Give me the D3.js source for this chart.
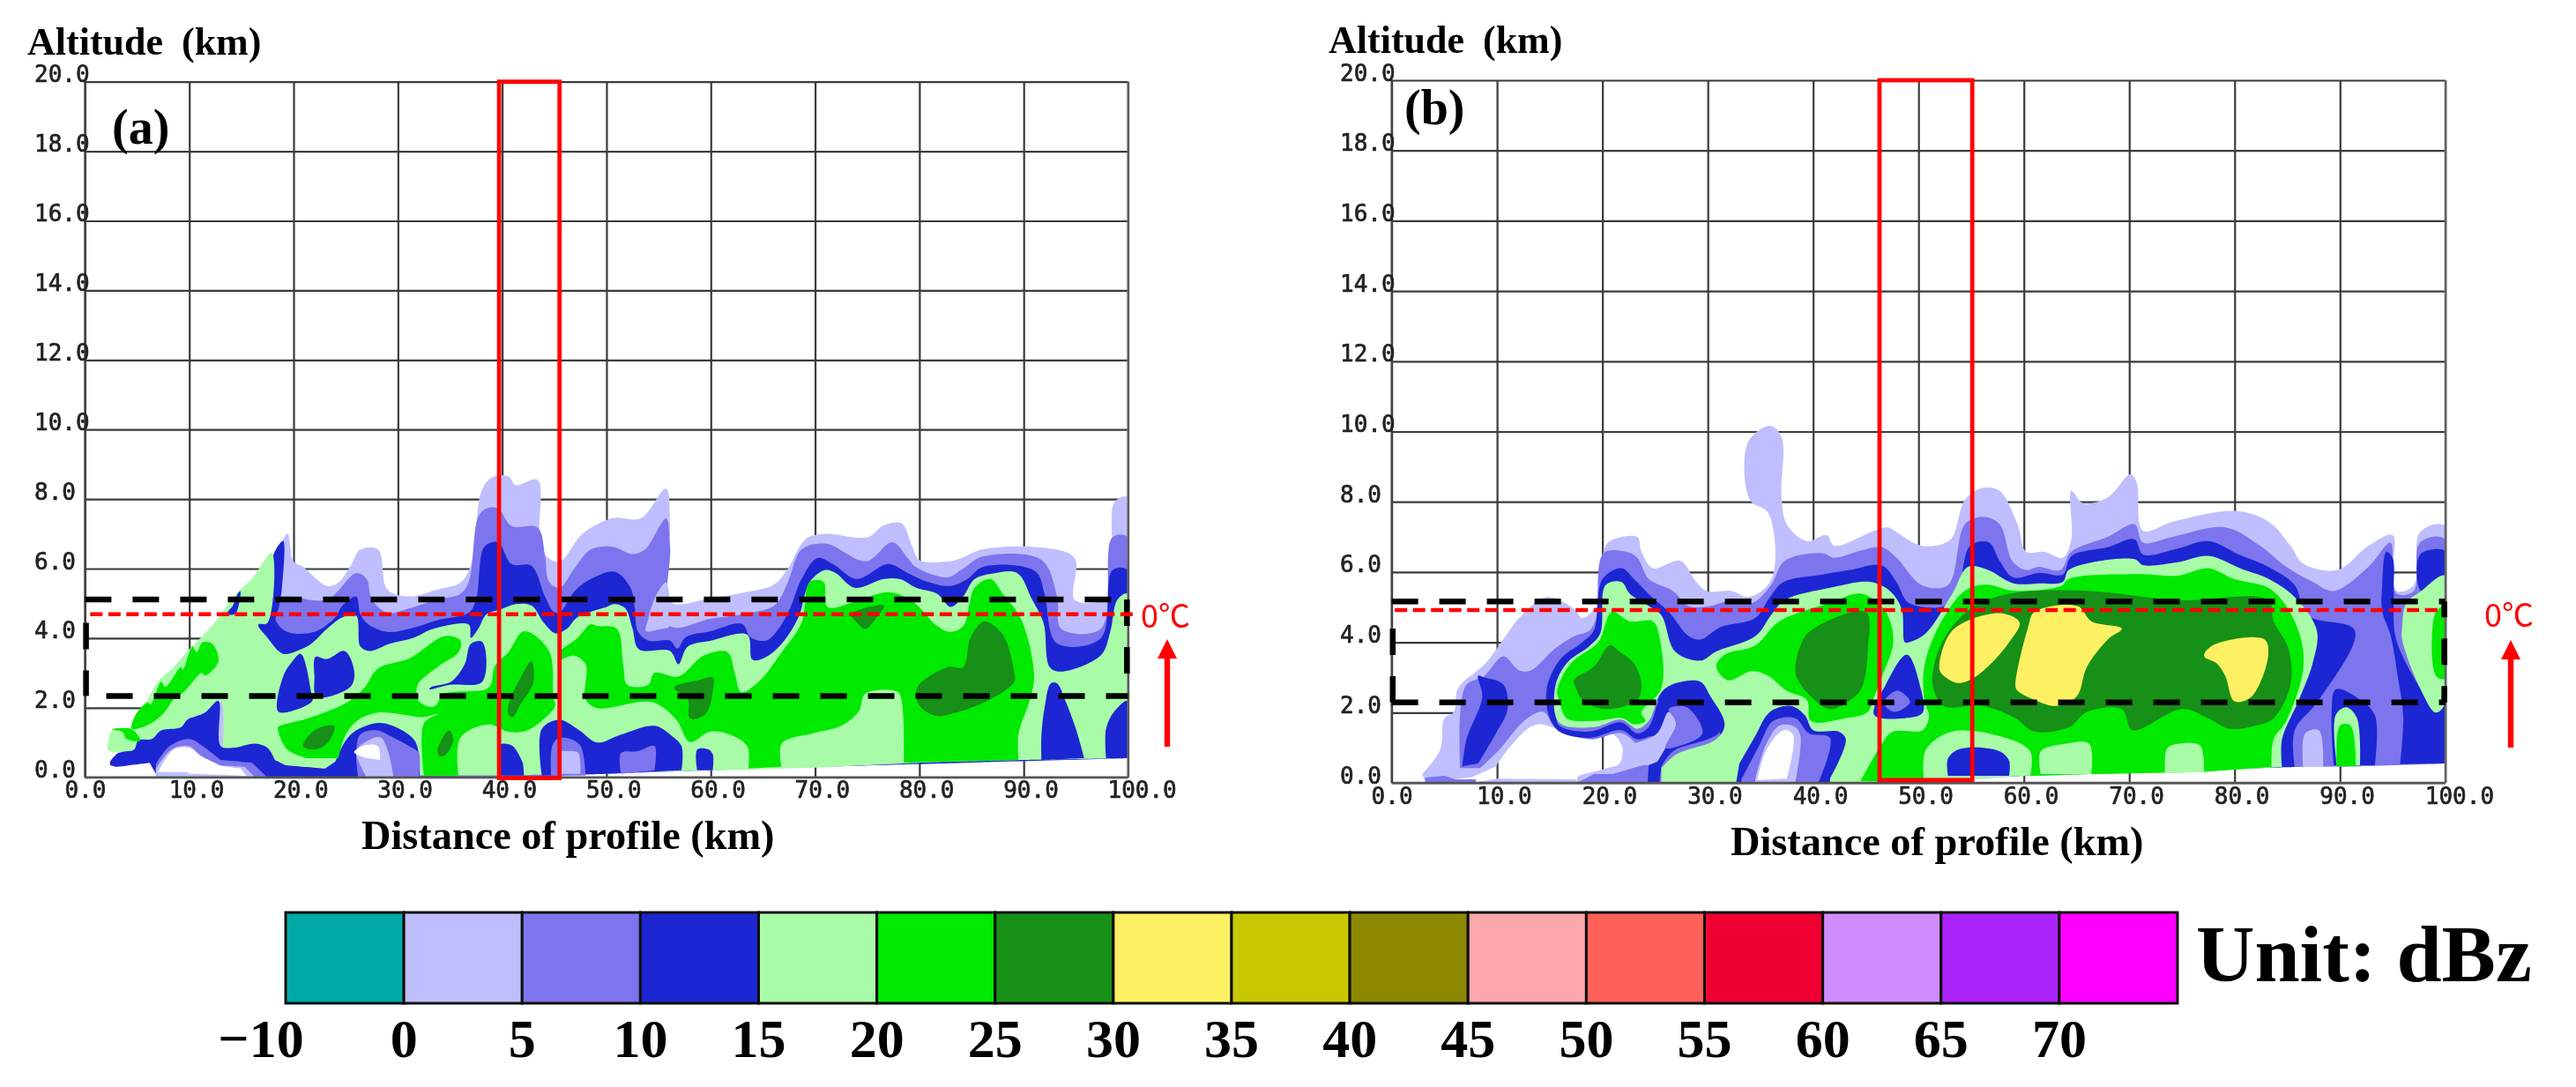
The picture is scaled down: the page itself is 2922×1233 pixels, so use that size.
<!DOCTYPE html>
<html><head><meta charset="utf-8">
<script src="https://cdn.jsdelivr.net/npm/d3@7"></script>
<style>html,body{margin:0;background:#fff}svg{display:block}</style></head><body>
<svg id="c" width="2922" height="1233"></svg>
<script>
// ---------- tick labels & legend ----------
const xTicks=[0,10,20,30,40,50,60,70,80,90,100];
const yTicks=[0,2,4,6,8,10,12,14,16,18,20];
const levels=[-10,0,5,10,15,20,25,30,35,40,45,50,55,60,65,70];
const levelColors=["#00a9a5","#bfbfff","#7c74ee","#1e28d2","#a8fca8","#00ea00","#149018","#fdf062","#c8c800","#8c8800","#ffa8ac","#ff6058","#f00030","#d08cff","#ab20f8","#ff00ff"];
const HOLE=null;
// reference lines (km / altitude)
const aBox={top:5.11,bottom:2.34,freezing:4.69,redL:39.7,redR:45.5};
const bBox={top:5.16,bottom:2.29,freezing:4.92,redL:46.3,redR:55.1};

// ---------- panel (a): reflectivity regions as [distance km, altitude km] ----------
const a0=[[19.4,7],[20,6.2],[20.9,6.05],[23.2,5.5],[24.3,5.6],[25.5,6.1],[26.4,6.55],[28.1,6.55],[29,5.4],[31.1,5.2],[33.8,5.4],[36,5.6],[37,6.1],[38.1,8.3],[39.2,8.65],[40.6,8.65],[41.3,8.4],[43.4,8.55],[43.6,7.05],[44.1,6.4],[45.5,6.2],[47.7,7],[50.6,7.45],[53.3,7.45],[55.7,8.3],[56.1,7.3],[56.1,5.05],[60,5.15],[63,5.3],[66.1,5.55],[67.4,6],[69.1,6.85],[71,7],[75,6.9],[76.6,7.25],[78.3,7.3],[79.3,6.65],[80,6.25],[82.7,6.2],[84,6.3],[86,6.55],[91.9,6.6],[94.9,6.3],[94.9,5.1],[98.1,5.2],[98.7,7.9],[100,8.05],[100,.55],[90,.5],[80,.4],[70,.3],[60,.2],[50,.1],[40,0],[7,0],[7,.1],[10,1.2],[15,3],[17,5]];
const a5=[[18.3,5.07],[23.2,5.11],[26,5.87],[27,5.7],[27.5,5.11],[29,4.73],[31.1,4.86],[33.8,5.11],[36,5.28],[36.8,5.62],[37.7,7.48],[38.5,7.73],[39.6,7.73],[40.9,7.22],[43.4,7.18],[44.1,6.38],[44.5,5.62],[45.5,5.45],[47,6.04],[48.5,6.55],[50.6,6.63],[52.5,6.42],[53.7,6.55],[55.7,7.44],[56.1,6.63],[56.1,4.35],[60,4.56],[63,4.69],[66.1,4.94],[67.4,5.62],[68.7,6.55],[71,6.72],[74.9,6.21],[77.4,6.76],[78.9,6.3],[79.7,6.04],[82.7,5.75],[84,5.96],[86,6.34],[91.7,6.25],[93.2,5.2],[93.6,4.27],[97.4,4.27],[98.5,6.9],[100,6.9],[100,.55],[80,.4],[60,.2],[40,0],[18,0]];
const aPocket=[[53.8,4.2],[54,4.55],[54.7,5.2],[55.7,5.6],[56.1,5],[56.1,4.35],[55,4.25]];
const a10=[[18.5,6.65],[19,6.8],[18.9,5.5],[18.6,4.9],[18.3,4.52],[19.4,4.18],[22,4.18],[24,4.6],[24.7,4.94],[26,5.2],[26.4,4.69],[27.2,4.39],[29,4.18],[31.1,4.27],[33.8,4.52],[36.8,4.73],[37.5,5.11],[38.3,6.63],[39.6,6.76],[40.9,6.13],[42.8,6.08],[44.1,5.2],[44.9,4.77],[45.5,4.73],[47,5.37],[48.5,5.7],[50.8,5.91],[52.3,5.45],[52.7,4.9],[53,4.2],[54,3.93],[56.1,3.93],[56.8,3.7],[57.6,4.03],[60,4.2],[63,4.41],[63.8,4.03],[65.3,3.93],[66.5,4.27],[67.6,4.86],[68.7,5.7],[70.2,6.3],[71.7,6.13],[74,5.7],[77,6.13],[78.9,5.87],[80.8,5.62],[83,5.5],[84.6,5.7],[86,6.04],[89.5,6.08],[91.3,5.87],[92,5.28],[93.2,3.85],[97.4,4],[98.5,5.95],[100,5.95],[100,.55],[70,.3],[40,.05],[17,0],[16.6,4.4],[17.6,6]];
const a15=[[17.9,6.46],[17.5,4.44],[16.6,4.39],[17.5,4.01],[19,3.55],[20.7,3.68],[21.7,3.84],[23.2,4.27],[24.7,4.6],[26,4.65],[26.4,3.76],[27.3,3.63],[29.2,3.84],[31.5,4.01],[33.4,4.27],[36.8,4.39],[37,4.01],[37.7,4.27],[38.5,4.69],[39.8,4.82],[41.3,4.98],[42.8,4.94],[44,4.44],[45.1,4.14],[46.2,4.27],[47.2,4.6],[50,4.9],[50.8,4.98],[51.8,4.86],[52.5,4.27],[53.1,3.68],[56.1,3.63],[56.9,3.25],[57.8,3.76],[60,3.93],[63.5,4.1],[64,3.38],[65.3,3.46],[66.8,3.84],[68.4,4.6],[69.5,5.62],[71,5.96],[72,5.87],[73.8,5.45],[76.6,5.7],[78.1,5.7],[79.7,5.45],[81.7,5.28],[83,4.9],[84.2,5.2],[85.3,5.7],[87.2,5.87],[89.4,5.87],[90.8,5.11],[91.9,4.44],[92.5,3.17],[93.6,3.04],[97.4,3.51],[98.3,4.18],[99,5.11],[100,5.28],[100,.55],[90,.5],[80,.42],[70,.28],[60,.2],[47,.1],[40,.05],[32,.05],[13,.05],[13,2.2],[11.5,1.86],[9.8,1.65],[9.2,1.44],[7.3,1.35],[6.4,1.1],[5.1,1.06],[4.7,.8],[3.2,.72],[2.2,.8],[2.2,.97],[2.6,1.35],[4.3,1.44],[4.9,1.82],[5.8,2.15],[7,2.75],[8.5,3.17],[10,3.68],[11.1,4.01],[12.4,4.44],[14.5,5.28],[16,5.7]];
const aLowBlue=[[2.4,.45],[3.2,.7],[4.7,.8],[5.1,1.06],[6.4,1.1],[7.3,1.35],[9.2,1.44],[9.8,1.65],[11.5,1.86],[12.8,2.2],[13,.9],[14.2,.85],[16.3,.97],[17.5,.85],[18.2,.5],[19.2,.35],[23,.25],[24,.45],[25,1.06],[26,1.35],[28,1.56],[29.5,1.48],[31.5,1.1],[32,.7],[32.1,.05],[17,0],[7,0],[6.2,.42],[3,.3],[2.4,.35]];
const aArch1P=[[6.8,.38],[8.1,.89],[10,1.1],[11.5,.85],[13,.5],[16,.42],[17.5,0],[6.8,0]];
const aArch1L=[[6.8,.25],[8.3,.8],[10,.89],[11.1,.63],[13,.34],[15.3,.3],[16.3,0],[6.8,0]];
const aArch1W=[[7,.15],[8.5,.8],[10,.85],[11.1,.6],[13,.33],[14.9,.25],[15.5,.04],[10,.1],[9.8,.15]];
const aArch2P=[[26.2,0],[26,.7],[26.4,1.23],[28,1.35],[29.5,1.15],[31.1,.89],[32,.7],[32,0]];
const aArch2L=[[27,0],[26,.75],[26.8,1],[28.3,1.15],[29,.8],[29.6,0]];
const aArch2W=[[25.8,.72],[27,.93],[28.1,.89],[28.3,.5],[27,.55]];
const aB1=[[20.7,3.55],[21.7,2.41],[21.8,2.2],[19.8,1.9],[18.5,1.9],[19,2.9],[19.8,3.3]];
const aB2=[[22.1,3.46],[23.2,3.4],[24.9,3.63],[25.8,3.08],[25.6,2.66],[24.3,2.41],[22.2,2.32],[22,2.92]];
const aB3=[[37,3.84],[38.1,3.89],[38.1,2.75],[35,2.66],[33,2.53],[33.2,2.6],[35.1,2.75],[36.4,3.25]];
const aB4=[[13.6,4.7],[14.4,4.7],[14.9,5.35],[14.7,5.3],[14.2,4.95]];
const aB5=[[39.8,.93],[41,.9],[42,.4],[42.1,.05],[39.8,.05]];
const aB6=[[43.8,.05],[43.8,1.39],[45.5,1.65],[47.4,1.35],[49.1,1],[51.4,1.23],[54.6,1.48],[56.1,1.23],[57.2,.89],[57.2,.2],[50,.1]];
const aP6=[[44.7,.05],[44.8,.9],[45.5,1.14],[47.4,.95],[48,.05]];
const aL6=[[45.5,.1],[45.5,.72],[46.5,.75],[47.3,.7],[47.5,.1]];
const aP7=[[51.4,.1],[51.4,.7],[53,.75],[54.6,.9],[54.6,.2]];
const aB8=[[58.7,.2],[58.7,.8],[59.8,.8],[60.2,.65],[60.2,.2]];
const aB9=[[91.7,.5],[91.7,1.2],[92,2],[92.6,2.7],[93.2,2.7],[94,2.2],[95,1.4],[95.8,.55]];
const aB10=[[97.9,.55],[97.9,1.4],[98.7,1.9],[100,2.2],[100,.55]];
const aG1=[[2.6,1.38],[4.5,1.38],[5.3,1.05],[4,1.1],[3.6,1.3]];
const aG2=[[4.5,1.4],[4.9,1.82],[6,2.15],[6.3,2.1],[7.3,2.75],[7.7,2.6],[9.2,3.17],[9.4,3.1],[10.3,3.76],[10.7,3.6],[11.3,3.89],[12.2,3.84],[12.8,3.34],[11.5,2.92],[11.2,3],[9.6,2.49],[8.5,2.24],[7.7,1.9],[6.4,1.56]];
const aG3=[[18.5,1.44],[21.3,1.69],[25.1,2.15],[26.8,2.58],[28.1,3.13],[31.1,3.42],[34.5,4.06],[36,3.93],[35.8,3.59],[33.8,3.17],[31.9,2.66],[32,2.2],[33.4,2.03],[34.5,2.4],[38.7,2.58],[39.3,3.2],[40.6,3.6],[42.1,4.2],[44.5,3.63],[44.9,2.3],[45.1,2.07],[44.5,1.82],[42.4,1.35],[40.6,1.31],[38.7,1.52],[36,1.14],[35.8,.05],[32.5,.05],[32.5,1.56],[33.8,1.82],[32.4,1.73],[30.2,1.82],[28.1,1.86],[26.2,1.65],[25,1.23],[24.3,.55],[21.3,.55],[19.4,.8],[18.5,1.35]];
const aG4=[[45.5,3.6],[47.2,4],[48.5,4.4],[49.1,4.35],[51,4.27],[51.6,3.25],[52,2.66],[54,2.66],[54.6,3],[56.9,2.9],[59.3,3.5],[61.6,3.6],[62.3,3],[62.9,2.45],[64.6,2.75],[66.8,3.6],[68.7,4.44],[69.5,5.62],[70.8,5.62],[71.2,4.9],[74,5.07],[77,5.32],[79.3,5.07],[81.7,4.35],[83,4.18],[84.2,4.35],[85.3,5.45],[86.8,5.7],[88,5.28],[89.8,4.52],[91,2.92],[90.6,2.24],[89.5,1.23],[89.5,.5],[78.5,.42],[78.1,2.4],[77.4,2.5],[74.8,2.4],[74.2,1.9],[72.5,1.48],[69.9,1.27],[66.8,.97],[66.8,.3],[63.6,.25],[63.5,.89],[61.8,1.23],[59.9,1.31],[58,1.01],[56.7,1.65],[54.4,2.16],[49.1,1.99],[48,2.24],[48,3.25],[46.9,3.5],[45.5,3.4]];
const aD1=[[20.9,.89],[22,1.35],[23.9,1.48],[23.2,.97],[22,.8]];
const aD2=[[33.8,.8],[34.9,1.35],[35.3,1.06],[34.5,.63],[34,.6]];
const aD3=[[40.6,2.07],[41.7,2.83],[42.8,3.34],[43,2.75],[41.7,2.07],[41,1.73],[40.6,1.82]];
const aD4=[[56.5,2.58],[58.9,2.8],[60.2,2.87],[60.2,2.49],[59.5,1.82],[58,1.69],[57.8,2.24]];
const aD5=[[73.4,4.69],[76.6,4.94],[75.7,4.52],[74.8,4.27],[73.8,4.52]];
const aD6=[[79.8,2.58],[82.7,3.17],[84.2,3.17],[84.9,4.01],[86.2,4.48],[88,4.1],[89.1,3],[89.1,2.75],[86.8,2.24],[83,1.82],[81.5,1.77],[80,2.07]];
const aLayers=[[0,a0],[5,a5],[0,aPocket],[10,a10],[15,a15],[10,aLowBlue],[5,aArch1P],[0,aArch1L],[HOLE,aArch1W],[5,aArch2P],[0,aArch2L],[HOLE,aArch2W],[10,aB1],[10,aB2],[10,aB3],[10,aB4],[10,aB5],[10,aB6],[5,aP6],[0,aL6],[5,aP7],[10,aB8],[10,aB9],[10,aB10],[20,aG1],[20,aG2],[20,aG3],[20,aG4],[25,aD1],[25,aD2],[25,aD3],[25,aD4],[25,aD5],[25,aD6]];

// ---------- panel (b) ----------
const b0=[[20.7,6.88],[23.3,7],[23.7,6.58],[24.8,6.11],[27.4,6.32],[28.9,5.72],[29.9,5.46],[32.3,5.46],[33.8,5.29],[35.7,5.63],[36.4,6.32],[35.7,7.7],[34,8.05],[33.8,9.68],[35.9,10.16],[37,9.85],[37,8.13],[37.5,7.36],[39.4,6.88],[41.3,7.05],[42,6.75],[45.8,7.18],[47.1,7.27],[47.9,7.14],[50.3,6.75],[53,6.92],[54.4,8.05],[56.1,8.4],[57.7,8.31],[59.4,7.36],[60.2,6.58],[61.9,6.58],[63.7,6.41],[64.5,6.93],[64.5,8.31],[65.6,7.96],[68,8.13],[70.1,8.78],[70.7,8.56],[71.3,7.18],[74.2,7.44],[80,7.74],[83.2,7.44],[85.3,6.75],[86.5,6.24],[89.8,6.06],[92.7,6.75],[95,7.05],[95,5.9],[95.4,5.46],[97,5.63],[97.6,7.14],[100,7.31],[100,.55],[91.9,.47],[84.5,.45],[77.5,.34],[66.4,.25],[60.2,.2],[55.3,.1],[50,.03],[40,0],[24.3,0],[17.5,0],[17.7,.2],[21.5,.5],[22,.8],[21.5,1.24],[20.3,1.5],[18.8,1.45],[16.2,1.5],[14,1.67],[12.9,1.54],[11,.94],[9.9,.47],[7.6,.16],[5.4,.08],[3.2,0],[2.9,.25],[4.6,.94],[5,1.84],[5.9,2.02],[6.3,2.7],[8.9,3.4],[11,4.26],[12.1,4.69],[14.7,5.29],[17.3,4.95],[18.1,4.69],[19.6,5.12],[20.1,6.58]];
const bGroundL=[[7.6,0],[17.5,0],[17.5,.1],[10,.12]];
const b5=[[7,2.75],[8.8,3.05],[10.6,3.6],[12.1,3.2],[13.2,3.2],[15.5,3.82],[17.3,4.17],[18.8,4.34],[19.4,4.69],[20.1,6.54],[22.2,6.58],[23.3,6.41],[24.4,5.8],[26.7,5.46],[28.2,5.03],[30.2,5.03],[32.3,5.2],[34.2,5.12],[36,5.63],[37.3,6.32],[40.9,6.54],[42,6.41],[44.6,6.62],[46.5,6.71],[47.9,6.41],[50.3,5.63],[52.8,5.63],[54.4,7.36],[56.1,7.57],[57.7,7.36],[58.9,6.32],[60.2,6.06],[61.4,6.15],[63.5,6.06],[64.5,6.58],[68,7.01],[70.5,7.36],[71.3,6.84],[74.2,7.01],[79.1,7.27],[82.4,6.75],[84.9,6.15],[87.4,5.72],[89.4,5.46],[92.7,6.15],[94.8,6.84],[95,5.9],[95.4,5.38],[97,5.46],[97.6,6.84],[100,6.93],[100,.55],[91.9,.47],[84.5,.45],[60,.2],[40,.03],[24.6,0],[24.4,.55],[23.3,1.07],[21.8,1.41],[18.8,1.24],[15.5,1.59],[14.4,2.02],[12.7,1.8],[10.2,.94],[8.4,.42],[6.5,.42]];
const bGroundP=[[3.2,0],[3.2,.15],[5,.2],[6,.1],[8,.1],[8,0]];
const bGroundP2=[[17.6,0],[19.2,.25],[21,.25],[24.4,.55],[24.6,0]];
const bLeftB=[[8.2,3.05],[8.8,3],[10.6,2.8],[11,2.1],[9.9,1.41],[8.2,.55],[6.7,.47],[7.1,1.24],[8.6,2.45]];
const b10=[[14.7,2.53],[15.9,3.48],[18.1,4],[19.2,4.34],[20,5.8],[21.8,6.11],[23,5.8],[24.4,5.37],[26.3,4.86],[28.2,4.17],[29.3,4.08],[31.2,4.43],[34.5,4.69],[35.9,5.29],[37.2,5.72],[40.9,5.93],[43.5,6.06],[46.5,6.19],[47.9,5.72],[49.1,5.12],[53.2,5.12],[54.9,6.75],[56.7,6.84],[57.7,6.32],[59,5.85],[61.5,5.98],[63.7,5.93],[64.5,6.45],[68,6.71],[70.5,6.93],[71.3,6.5],[74.6,6.67],[77.5,6.88],[80.4,6.5],[83.2,6.15],[85.7,5.63],[86.9,4.77],[91.4,4.34],[88,2.36],[85.7,1.5],[85.7,.45],[60,.2],[40,.03],[32,0],[31,1.5],[27,2.6],[25,2.3],[15.9,2]];
const bRightB1=[[94.4,6.58],[95,6.4],[95.1,5.46],[95.2,4.26],[96,3.57],[97.6,2.7],[99.1,2],[100,2.27],[100,.55],[95.7,.53],[96,1.9],[95.5,3],[94.8,4.2],[94,4.9],[94,5.6]];
const bRightB2=[[97.6,6.5],[100,6.6],[100,5.9],[97.7,5.46]];
const bBand=[[15.5,2.06],[15.9,1.63],[18.8,1.46],[21.8,1.72],[23.3,1.41],[24.4,1.59],[25.6,2.45],[27,2.7],[29.9,2.75],[31.2,1.84],[31,1.41],[30,1.24],[26.7,.9],[25.6,.47],[25.4,0],[24.3,0],[24.4,.55],[25.2,1.24],[24.8,1.33],[23.3,1.24],[21.8,1.5],[18.8,1.28],[15.9,1.46],[14.9,1.93],[14.7,2.53]];
const bWedgeL=[[21.8,.5],[22.2,1.1],[23.3,1.15],[25.2,1.41],[26.3,2.02],[27,1.7],[26,1],[25.2,.6],[24.4,.5]];
const bWedgeP=[[26.3,2.1],[28,2.15],[29.5,1.41],[26.7,1],[26,1],[27,1.7]];
const b15=[[15.5,2.7],[16.6,3.4],[18.8,3.9],[19.8,4.26],[20.3,5.63],[21.8,5.72],[22.6,5.38],[24.4,5.03],[25.6,4.77],[26.9,3.74],[29.3,3.48],[30.8,3.74],[34.5,4.17],[36,4.77],[37.3,5.2],[41.6,5.55],[45.4,5.72],[47.3,5.46],[48.4,4.95],[48.7,4],[49.1,4],[50.7,4.26],[53.2,5.38],[54.7,6.15],[56.5,6.07],[59,5.68],[61.5,5.68],[63.7,5.72],[64.3,6.07],[70.5,6.37],[71.3,6.2],[74.6,6.28],[77.5,6.46],[80.8,6.07],[83.2,5.81],[85.7,5.29],[87.8,4.34],[87.4,3.4],[86.1,2.36],[84.5,1.24],[84.5,.45],[77.5,.34],[66.4,.25],[60,.2],[54,.1],[41.6,0],[32.7,0],[25.6,0],[25.6,.42],[27,.81],[30.8,1.24],[31.6,1.67],[30.2,2.49],[29.3,2.88],[27,2.84],[25.6,2.58],[24.4,1.76],[23.3,1.54],[21.8,1.8],[19.2,1.59],[15.9,1.71]];
const bRightL=[[95.9,4.43],[96.3,5.12],[97.7,5.46],[100,5.9],[100,2.27],[99.1,2],[97.6,2.7],[95.9,4.08]];
const bRightG=[[99.1,4.86],[100,5.03],[100,2.97],[99.1,3.05]];
const bArchB=[[32.7,0],[33,.55],[34.5,1.33],[35.9,2.02],[37.9,2.19],[39.2,1.93],[40,1.5],[42.4,1.46],[43.1,1.24],[41.6,.12],[41.6,0]];
const bArchP=[[33.2,.1],[34.9,1.07],[36.2,1.76],[38.3,1.84],[39.6,1.41],[41.6,1.28],[40.5,0],[33.2,0]];
const bArchL=[[34.5,.1],[35.5,1.07],[36.8,1.63],[38.3,1.59],[38.8,1.33],[38.3,0],[34.5,0]];
const bArchW=[[34.7,.08],[35.5,.9],[37.2,1.5],[38.1,1.37],[37.5,.12]];
const bBlob=[[48.9,3.65],[50.2,2.7],[50.4,2],[48.7,1.84],[45.8,1.93],[46.9,2.8]];
const bBlobP=[[48,2.62],[49.2,2.3],[47.7,2.02],[46.7,2.28]];
const bArch2B=[[89.4,.5],[89.2,1.93],[89.6,2.66],[91.5,2.45],[93.3,1.93],[93.3,.5]];
const bArch2L=[[89.7,.5],[89.6,1.93],[90.6,2.15],[91.6,1.85],[91.9,.5]];
const bArch2G=[[89.7,.47],[90,1.63],[91,1.63],[91.5,.47]];
const bPatchL=[[86.5,.45],[86.7,1.41],[88,1.5],[88.4,.45]];
const bG1=[[15.7,2.62],[17,3.4],[19.6,4],[20.9,4.86],[22.6,4.6],[24.8,4.6],[25.4,4.17],[25.6,2.7],[23.7,2],[24.1,1.76],[23,1.67],[21.9,1.84],[19.2,1.76],[16.6,1.84],[15.9,2.36]];
const bG2=[[30.8,3.31],[31.6,3.65],[34.5,3.91],[36.8,4.6],[41.6,5.12],[44.6,5.38],[46.9,4.86],[47.6,4],[46.5,3],[45.8,2.45],[45.2,2.02],[43.1,1.84],[39.8,1.76],[39.4,2.36],[37.5,2.62],[35.7,3.05],[34.2,3.18],[31.9,2.92]];
const bG3=[[50.5,3.22],[51.6,4.26],[54.4,5.47],[56.5,5.64],[59,5.47],[63.5,5.6],[64.3,5.81],[70.9,5.94],[74.6,5.9],[77.5,6.11],[79.9,5.81],[83.2,5.55],[84.9,5.03],[86.3,4.09],[86.5,3.22],[84.9,1.76],[83.7,1.24],[83.5,.45],[77.1,.31],[66.4,.25],[60.6,.2],[60.6,.9],[57.7,1.33],[53.2,1.46],[50.7,.94],[50.5,.1],[48,.02],[44.5,.05],[46.3,1],[47.5,1.45],[50.4,1.5],[51,1.9],[50.6,2.3]];
const bPocket1=[[61.6,.25],[61.6,.9],[63.9,1.11],[66.2,1.11],[66.4,.25]];
const bPocket2=[[73.4,.28],[73.6,.98],[74.6,1.11],[76.7,1.07],[77.1,.31]];
const bBlue3=[[52.8,.2],[52.8,.7],[54,.97],[57.7,.9],[58.6,.63],[58.6,.2]];
const bD1=[[17.3,2.92],[19.2,3.31],[20.7,3.91],[21.6,3.74],[23,3.4],[23.7,2.79],[23.3,2.36],[20.3,2.1],[18.1,2.36],[17.5,2.7]];
const bD2=[[38.3,3.22],[38.8,3.91],[39.8,4.34],[45,4.86],[45.2,3.83],[44.6,2.7],[43.5,2.36],[41.6,2.1],[39.8,2.45],[38.5,2.96]];
const bD3=[[51.4,3.22],[52.4,4.09],[54.9,4.95],[58.6,5.38],[65.6,5.47],[74.6,5.2],[83.2,5.2],[83.7,4.6],[85.1,3.83],[85.3,2.79],[83.7,1.84],[82,1.63],[79.5,1.54],[77.5,1.84],[75,2.1],[70.3,1.5],[69.3,2.1],[66,2.02],[64.3,1.59],[61,1.46],[59.2,1.84],[56.1,2.19],[52.4,2.19],[51.4,2.7]];
const bY1=[[52,3.22],[53,4.26],[55.3,4.69],[58.1,4.82],[59.6,4.56],[58.6,4],[56.9,3.4],[55.3,3],[53.8,2.84],[52.6,3]];
const bY2=[[59.2,2.75],[60.4,4.43],[61,4.86],[65.1,5.03],[66.4,4.6],[69.3,4.39],[68,4.09],[66,3.31],[65,2.45],[63.1,2.19],[61,2.36],[59.4,2.62]];
const bY3=[[77.1,3.61],[77.9,3.91],[82.8,4.09],[83.2,3.65],[81.6,2.45],[80,2.32],[79.1,3.05],[78.3,3.4]];
const bLayers=[[0,b0],[0,bGroundL],[5,b5],[5,bGroundP],[5,bGroundP2],[10,bLeftB],[10,b10],[10,bRightB1],[10,bRightB2],[10,bBand],[0,bWedgeL],[5,bWedgeP],[15,b15],[15,bRightL],[20,bRightG],[10,bArchB],[5,bArchP],[0,bArchL],[HOLE,bArchW],[10,bBlob],[5,bBlobP],[10,bArch2B],[15,bArch2L],[20,bArch2G],[0,bPatchL],[20,bG1],[20,bG2],[20,bG3],[15,bPocket1],[15,bPocket2],[10,bBlue3],[25,bD1],[25,bD2],[25,bD3],[30,bY1],[30,bY2],[30,bY3]];

// ---------- drawing ----------
const svg=d3.select("#c");
const defs=svg.append("defs");
defs.append("filter").attr("id","soft").attr("filterUnits","userSpaceOnUse").attr("x",0).attr("y",0).attr("width",2922).attr("height",1233)
  .append("feGaussianBlur").attr("stdDeviation",0.6);
const root=svg.append("g").attr("filter","url(#soft)");
const colorOf=d3.scaleOrdinal().domain(levels).range(levelColors);
const SERIF="'Liberation Serif',serif", MONO="'DejaVu Sans Mono',monospace";
const sharpBelow=0.6; // vertices this close to the ground keep a hard corner

function panel(o){
  const x=d3.scaleLinear().domain([0,100]).range(o.xr);
  const y=d3.scaleLinear().domain([0,20]).range(o.yr);
  const g=root.append("g");
  const h=o.yr[0]-o.yr[1], w=o.xr[1]-o.xr[0];
  const curve=d3.line().x(d=>x(d[0])).y(d=>y(d[1])).curve(d3.curveCatmullRomClosed.alpha(0.5));
  const line=pts=>curve(pts.flatMap(p=>p[1]<=sharpBelow?[p,p]:[p]));
  defs.append("clipPath").attr("id",o.id).append("rect").attr("x",o.xr[0]).attr("y",o.yr[1]).attr("width",w).attr("height",h);
  // grid, from the axes
  const gridX=g.append("g").attr("transform",`translate(0,${o.yr[0]})`)
    .call(d3.axisBottom(x).tickValues(xTicks).tickFormat("").tickSize(-h).tickSizeOuter(0));
  const gridY=g.append("g").attr("transform",`translate(${o.xr[0]},0)`)
    .call(d3.axisLeft(y).tickValues(yTicks).tickFormat("").tickSize(-w).tickSizeOuter(0));
  [gridX,gridY].forEach(a=>{a.select(".domain").remove();a.selectAll("line").attr("stroke","#3a3a3a").attr("stroke-width",2.2);});
  // reflectivity regions
  g.append("g").attr("clip-path",`url(#${o.id})`).selectAll("path").data(o.layers).join("path")
    .attr("d",d=>line(d[1])).attr("fill",d=>d[0]===HOLE?"#fff":colorOf(d[0]));
  // frame lines
  g.append("line").attr("x1",x(0)).attr("x2",x(100)).attr("y1",y(0)).attr("y2",y(0)).attr("stroke","#555").attr("stroke-width",2.4);
  g.append("line").attr("x1",x(0)).attr("x2",x(0)).attr("y1",y(0)).attr("y2",y(20)).attr("stroke","#444").attr("stroke-width",2.2);
  g.append("line").attr("x1",x(100)).attr("x2",x(100)).attr("y1",y(0)).attr("y2",y(20)).attr("stroke","#666").attr("stroke-width",2.2);
  // tick labels
  const gx=g.append("g").attr("transform",`translate(0,${o.yr[0]})`)
    .call(d3.axisBottom(x).tickValues(xTicks).tickFormat(d3.format(".1f")).tickSize(0));
  const gy=g.append("g").attr("transform",`translate(${o.xr[0]},0)`)
    .call(d3.axisLeft(y).tickValues(yTicks).tickFormat(d3.format(".1f")).tickSize(0));
  gx.select(".domain").remove();gy.select(".domain").remove();
  gx.selectAll("text").attr("y",o.xLabelDy).attr("dy",0).attr("x",-23.5).attr("text-anchor","start");
  gy.selectAll("text").attr("x",o.yLabelX-o.xr[0]).attr("dy",0).attr("text-anchor","start");
  [gx,gy].forEach(a=>{a.attr("font-family",null).attr("font-size",null);a.selectAll("text")
    .attr("font-family",MONO).attr("font-size",26).attr("fill","#222").attr("stroke","#222").attr("stroke-width",.7);});
  // dashed black box
  const b=o.box;
  const dash=(x1,y1,x2,y2,off)=>g.append("line").attr("x1",x(x1)).attr("x2",x(x2)).attr("y1",y(y1)).attr("y2",y(y2))
    .attr("stroke","#000").attr("stroke-width",6.5).attr("stroke-dasharray","30 24").attr("stroke-dashoffset",off||0);
  dash(o.dT,b.top,100,b.top);
  dash(o.dB,b.bottom,100,b.bottom);
  dash(0.1,o.dL,0.1,b.bottom);
  dash(99.9,b.top,99.9,o.dR,o.dROff);
  // freezing level
  g.append("line").attr("x1",x(o.fz[0])).attr("x2",x(o.fz[1])).attr("y1",y(b.freezing)).attr("y2",y(b.freezing))
    .attr("stroke","#ff0000").attr("stroke-width",4.6).attr("stroke-dasharray","14 6.5");
  // red analysis column
  g.append("rect").attr("x",x(b.redL)).attr("y",y(20)).attr("width",x(b.redR)-x(b.redL)).attr("height",y(o.redBottom)-y(20))
    .attr("fill","none").attr("stroke","#ff0000").attr("stroke-width",4.8);
  // arrow
  const [ax,ay0,ay1]=o.arrow;
  g.append("rect").attr("x",ax-3.2).attr("width",6.4).attr("y",ay1+18).attr("height",ay0-ay1-18).attr("fill","#ff0000");
  g.append("path").attr("d",`M${ax},${ay1}L${ax+11},${ay1+22}L${ax-11},${ay1+22}Z`).attr("fill","#ff0000");
  g.append("text").text("0℃").attr("x",o.fzText[0]).attr("y",o.fzText[1]).attr("fill","#ff0000")
    .attr("font-family","'Noto Sans CJK SC','Noto Sans',sans-serif").attr("font-size",36);
  // titles
  const t=(s,xx,yy,size)=>g.append("text").text(s).attr("x",xx).attr("y",yy).attr("font-family",SERIF)
    .attr("font-weight","bold").attr("font-size",size).attr("fill","#000");
  t("Altitude (km)",o.alt[0],o.alt[1],44).attr("word-spacing",10);
  t(o.tag[0],o.tag[1],o.tag[2],56);
  t("Distance of profile (km)",o.dist[0],o.dist[1],46.3);
}
panel({id:"clipA",xr:[96.4,1279.5],yr:[881.7,92.7],layers:aLayers,box:aBox,xLabelDy:23.5,yLabelX:39,
  dT:0,dB:2.04,dL:4.44,dR:2.95,dROff:0,fz:[.5,100.6],redBottom:-.02,arrow:[1324,847,725],fzText:[1294,712],
  alt:[31,62],tag:["(a)",127,163],dist:[410,963]});
panel({id:"clipB",xr:[1578.6,2773.8],yr:[888,91],layers:bLayers,box:bBox,xLabelDy:24,yLabelX:1520,
  dT:0,dB:0,dL:4.39,dR:2.29,dROff:12,fz:[.3,99.3],redBottom:.08,arrow:[2848,848,726],fzText:[2818,711],
  alt:[1507,60],tag:["(b)",1593,141],dist:[1963,970]});

// legend
const lx=d3.scaleBand().domain(levels).range([324,2470]);
const lg=root.append("g");
lg.selectAll("rect").data(levels).join("rect").attr("x",d=>lx(d)).attr("y",1035).attr("width",lx.bandwidth()).attr("height",103)
  .attr("fill",d=>colorOf(d)).attr("stroke","#111").attr("stroke-width",3);
lg.selectAll("text").data(levels).join("text")
  .text(d=>d<0?"−"+Math.abs(d):d).attr("x",(d,i)=>lx(d)+(i===0?-28:0)).attr("y",1199)
  .attr("text-anchor","middle").attr("font-family",SERIF).attr("font-weight","bold").attr("font-size",62).attr("fill","#000");
root.append("text").text("Unit: dBz").attr("x",2491).attr("y",1113).attr("font-family",SERIF).attr("font-weight","bold")
  .attr("font-size",92).attr("fill","#000");
</script></body></html>
